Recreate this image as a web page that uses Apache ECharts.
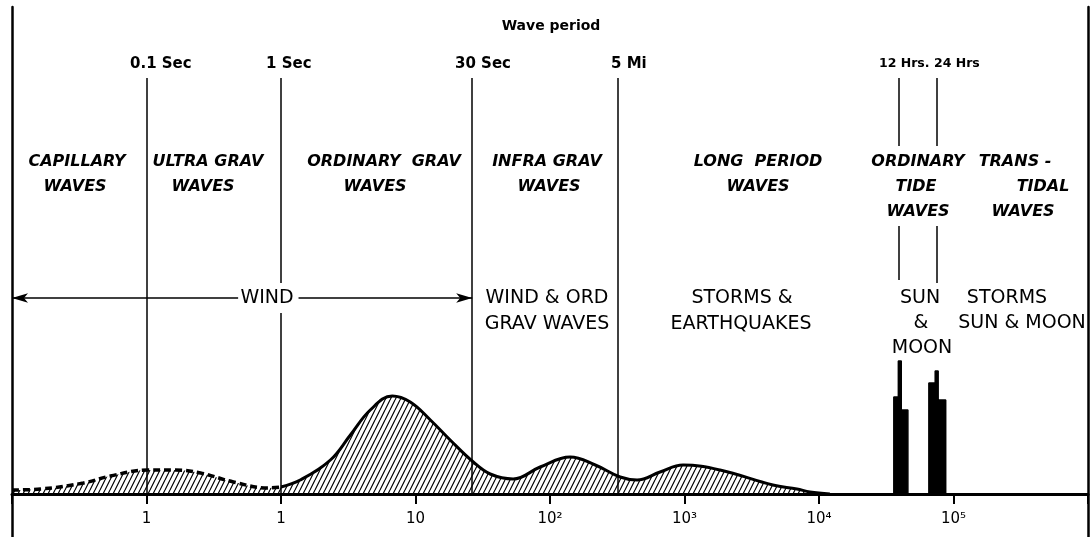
<!DOCTYPE html>
<html><head><meta charset="utf-8">
<script src="https://cdn.jsdelivr.net/npm/echarts@6/dist/echarts.min.js"></script>
<style>html,body{margin:0;padding:0;background:#fff}#c{width:1091px;height:537px}</style>
</head><body><div id="c"></div>
<script>
// ---------- data (period in seconds, relative energy) ----------
const capPeriod  = [0.01, 0.0163, 0.034, 0.054, 0.102, 0.164, 0.252, 0.443, 0.792, 1.0];
const capEnergy  = [1.0, 1.25, 2.75, 4.5, 6.0, 6.0, 5.25, 3.0, 1.5, 1.75];
const mainPeriod = [1.0, 1.39, 2.33, 3.28, 4.61, 6.72, 9.14, 12.9, 18.1, 26.9, 35.9, 53.2, 84.5, 141, 217, 332, 444, 658, 975, 1836, 4540, 6850, 8560, 12050];
const mainEnergy = [1.75, 3.5, 8.5, 14.75, 21, 24.5, 23, 18.5, 13.5, 8, 5, 3.75, 6.75, 9.25, 7.25, 4.25, 3.5, 5.5, 7.25, 6, 2.25, 1.25, 0.5, 0];
const tidePeriod = [36000, 36000, 38900, 38900, 40900, 40900, 45800, 45800, 65600, 65600, 73100, 73100, 76900, 76900, 87500, 87500];
const tideEnergy = [0, 24.25, 24.25, 33.25, 33.25, 21, 21, 0, 0, 27.75, 27.75, 30.75, 30.75, 23.5, 23.5, 0];
const boundaryPeriods = [0.1, 1, 26.4, 321, 39100, 75000];
const boundaryLabels  = ['0.1 Sec', '1 Sec', '30 Sec', '5 Mi', '12 Hrs.', '24 Hrs'];
const tickValues = [0.1, 1, 10, 100, 1000, 10000, 100000];
const tickLabels = ['1', '1', '10', '10²', '10³', '10⁴', '10⁵'];
const windFrom = 0.01, windTo = 26.4;

// ---------- layout ----------
const TOP = 104; // top of boundary lines in energy units
const segs = [
  [[0, TOP]],
  [[0, 45.25], [52.75, TOP]],
  [[0, TOP]],
  [[0, TOP]],
  [[87, TOP], [53.5, 67]],
  [[87, TOP], [52.75, 67]]
];
const WY = 49; // wind arrow level

function hatch() {
  const c = document.createElement('canvas'); c.width = 5; c.height = 10;
  const g = c.getContext('2d'); g.strokeStyle = '#000'; g.lineWidth = 1.2;
  g.beginPath();
  for (const dx of [-5, 0, 5]) { g.moveTo(dx, 10); g.lineTo(dx + 5, 0); }
  g.stroke(); return c;
}
const pat = { image: hatch(), repeat: 'repeat' };

const mlData = [];
boundaryPeriods.forEach((p, i) => segs[i].forEach(s => mlData.push([{ coord: [p, s[0]] }, { coord: [p, s[1]] }])));
mlData.push([{ coord: [windFrom, WY], symbol: 'arrow' }, { coord: [0.48, WY], symbol: 'none' }]);
mlData.push([{ coord: [1.35, WY], symbol: 'none' }, { coord: [windTo, WY], symbol: 'arrow' }]);

const F = '"DejaVu Sans", sans-serif';
const texts = [];
function T(t, x, y, font, align) {
  texts.push({ type: 'text', silent: true, style: { text: t, x: x, y: y, font: font, fill: '#000',
    textAlign: align || 'center', textVerticalAlign: 'middle', align: align || 'center', verticalAlign: 'middle' } });
}
T('Wave period', 551, 26, 'bold 14px ' + F);
const pL = [130, 266, 455, 611, 879, 934];
boundaryLabels.forEach((t, i) => T(t, pL[i], 64, (i >= 4 ? 'bold 12.5px ' : 'bold 15px ') + F, 'left'));
const IT = 'italic bold 16px ' + F;
T('CAPILLARY', 77, 162, IT); T('WAVES', 75, 187, IT);
T('ULTRA GRAV', 208, 162, IT); T('WAVES', 203, 187, IT);
T('ORDINARY  GRAV', 384, 162, IT); T('WAVES', 375, 187, IT);
T('INFRA GRAV', 547, 162, IT); T('WAVES', 549, 187, IT);
T('LONG  PERIOD', 758, 162, IT); T('WAVES', 758, 187, IT);
T('ORDINARY', 918, 162, IT); T('TIDE', 916, 187, IT); T('WAVES', 918, 212, IT);
T('TRANS -', 1015, 162, IT); T('TIDAL', 1043, 187, IT); T('WAVES', 1023, 212, IT);
const RG = '19px ' + F;
T('WIND', 267, 298, RG);
T('WIND & ORD', 547, 298, RG); T('GRAV WAVES', 547, 324, RG);
T('STORMS &', 742, 298, RG); T('EARTHQUAKES', 741, 324, RG);
T('SUN', 920, 298, RG); T('&', 921, 323, RG); T('MOON', 922, 348, RG);
T('STORMS', 1007, 298, RG); T('SUN & MOON', 1022, 323, RG);

const zip = (a, b) => a.map((v, i) => [v, b[i]]);
const yAx = pos => ({ type: 'value', position: pos, min: -10.75, max: 121.75,
  axisLine: { show: true, onZero: false, lineStyle: { color: '#000', width: 2.5 } },
  axisTick: { show: false }, axisLabel: { show: false }, splitLine: { show: false } });

const chart = echarts.init(document.getElementById('c'));
chart.setOption({
  animation: false,
  backgroundColor: '#fff',
  grid: { left: 12, right: 3, top: 7, bottom: 0, containLabel: false, outerBoundsMode: 'none' },
  xAxis: { type: 'log', logBase: 10, min: 0.01, max: 1e6, splitNumber: 8,
    axisLine: { onZero: true, lineStyle: { color: '#000', width: 3 } },
    axisTick: { show: true, length: 10, lineStyle: { color: '#000', width: 2 } },
    minorTick: { show: false }, splitLine: { show: false },
    axisLabel: { inside: true, margin: 10, fontSize: 15, color: '#000', fontFamily: 'DejaVu Sans',
      formatter: v => { const i = tickValues.findIndex(t => Math.abs(Math.log10(t) - Math.log10(v)) < 1e-6); return i >= 0 ? tickLabels[i] : ''; } } },
  yAxis: [yAx('left'), yAx('right')],
  series: [
    { type: 'line', data: zip(capPeriod, capEnergy), smooth: 0.4, symbol: 'none',
      lineStyle: { color: '#000', width: 3.5, type: [7, 4] }, areaStyle: { color: pat, opacity: 1 } },
    { type: 'line', data: zip(mainPeriod, mainEnergy), smooth: 0.4, symbol: 'none',
      lineStyle: { color: '#000', width: 3 }, areaStyle: { color: pat, opacity: 1 },
      markLine: { silent: true, symbol: ['none', 'none'], symbolSize: [7, 16], label: { show: false },
        lineStyle: { color: '#000', width: 1.5, type: 'solid' }, data: mlData } },
    { type: 'line', data: zip(tidePeriod, tideEnergy), symbol: 'none',
      lineStyle: { color: '#000', width: 1.5 }, areaStyle: { color: '#000', opacity: 1 } }
  ],
  graphic: texts
});
</script></body></html>
